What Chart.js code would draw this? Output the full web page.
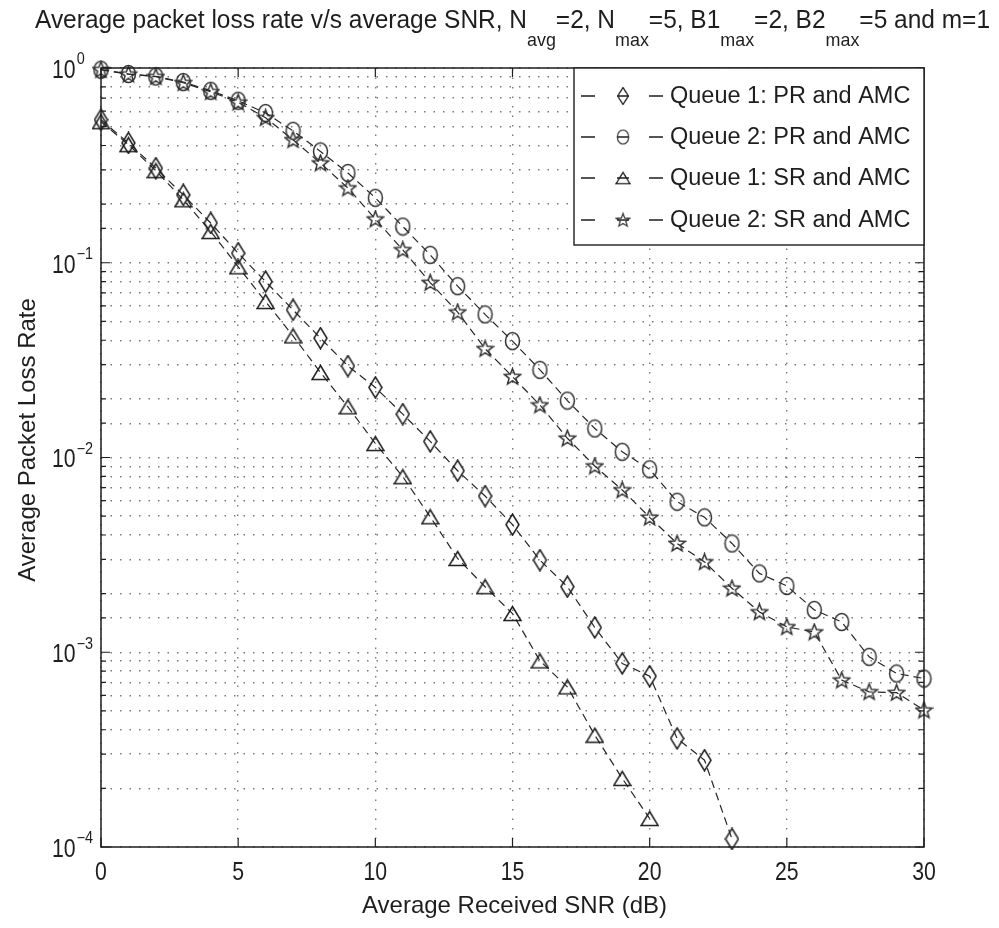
<!DOCTYPE html>
<html>
<head>
<meta charset="utf-8">
<script src="https://cdn.jsdelivr.net/npm/chart.js@4.4.0/dist/chart.umd.min.js"></script>
<style>
  html, body { margin: 0; padding: 0; background: #fff; }
  #wrap { position: relative; width: 999px; height: 928px; overflow: hidden; }
  #title {
    position: absolute; left: 35px; top: 4px; white-space: nowrap; color: #1e1e1e;
    font: 26px "Liberation Sans", Arial, sans-serif; transform-origin: 0 0;
  }
  #title .s { font-size: 19px; position: relative; top: 18px; }
  #chart { position: absolute; left: 0; top: 0; }
</style>
</head>
<body>
<div id="wrap">
  <canvas id="chart" width="999" height="928"></canvas>
  <div id="title">Average packet loss rate v/s average SNR, N<span class="s">avg</span>=2, N<span class="s">max</span>=5, B1<span class="s">max</span>=2, B2<span class="s">max</span>=5 and m=1</div>
</div>
<script>
// --- data ---
const snrDb = [0, 1, 2, 3, 4, 5, 6, 7, 8, 9, 10, 11, 12, 13, 14, 15, 16, 17, 18, 19, 20,
               21, 22, 23, 24, 25, 26, 27, 28, 29, 30];
const q1PR = [0.542, 0.412, 0.306, 0.223, 0.160, 0.112, 0.080, 0.0573, 0.0410, 0.0295, 0.0229,
              0.0167, 0.0121, 0.00855, 0.00634, 0.00452, 0.00297, 0.00217, 0.00134, 0.000876,
              0.000754, 0.000361, 0.000279, 0.000110];
const q2PR = [0.980, 0.932, 0.905, 0.847, 0.764, 0.679, 0.587, 0.476, 0.373, 0.289, 0.2156,
              0.1535, 0.1098, 0.0758, 0.0543, 0.0396, 0.0282, 0.0196, 0.0141, 0.0107, 0.0087,
              0.00593, 0.00493, 0.00362, 0.00254, 0.00219, 0.00165, 0.00143, 0.000947, 0.000778,
              0.000733];
const q1SR = [0.530, 0.404, 0.297, 0.2105, 0.1446, 0.0953, 0.0632, 0.0421, 0.0273, 0.0182, 0.0118,
              0.00797, 0.00496, 0.00303, 0.00217, 0.00158, 0.000903, 0.000664, 0.000375, 0.000225,
              0.000140];
const q2SR = [0.980, 0.929, 0.902, 0.840, 0.755, 0.667, 0.555, 0.428, 0.325, 0.242, 0.1675,
              0.1165, 0.0791, 0.0558, 0.0362, 0.0260, 0.0186, 0.01255, 0.00904, 0.00681, 0.00493,
              0.00362, 0.00291, 0.00213, 0.00161, 0.00135, 0.00127, 0.000719, 0.000626, 0.000620,
              0.000504];
const seriesNames = ['Queue 1: PR and AMC', 'Queue 2: PR and AMC', 'Queue 1: SR and AMC', 'Queue 2: SR and AMC'];
const xTicks = [0, 5, 10, 15, 20, 25, 30];
const yExponents = [0, -1, -2, -3, -4];
const xTitle = 'Average Received SNR (dB)';
const yTitle = 'Average Packet Loss Rate';

const FONT = '"Liberation Sans", Arial, sans-serif';
const INK = '#1e1e1e';

// squeeze the title to the width it has in the figure
const titleEl = document.getElementById('title');
titleEl.style.transform = 'scaleX(' + (955 / titleEl.getBoundingClientRect().width) + ')';

// --- marker images (hollow, like the MATLAB markers) ---
function makeMarker(w, h, color, path) {
    const c = document.createElement('canvas');
    c.width = w; c.height = h;
    const g = c.getContext('2d');
    g.strokeStyle = color;
    g.lineWidth = 1.5;
    g.beginPath();
    path(g);
    g.closePath();
    g.stroke();
    return c;
}
const diamond = makeMarker(15, 23, INK, g => {
    g.moveTo(7.5, 1); g.lineTo(14, 11.5); g.lineTo(7.5, 22); g.lineTo(1, 11.5);
});
const circle = makeMarker(17, 20, '#333', g => {
    g.ellipse(8.5, 10, 7, 8.5, 0, 0, Math.PI * 2);
});
const triangle = makeMarker(19, 17, INK, g => {
    g.moveTo(9.5, 1.5); g.lineTo(18, 15.5); g.lineTo(1, 15.5);
});
const star = makeMarker(19, 19, '#333', g => {
    for (let i = 0; i < 10; i++) {
        const r = i % 2 === 0 ? 8.5 : 3.6;
        const a = -Math.PI / 2 + i * Math.PI / 5;
        const px = 9.5 + r * Math.cos(a), py = 10 + r * Math.sin(a);
        if (i === 0) g.moveTo(px, py); else g.lineTo(px, py);
    }
});
const markers = [diamond, circle, triangle, star];

function toPoints(vals) {
    return vals.map((v, i) => ({ x: snrDb[i], y: v }));
}

// text with an optional horizontal squeeze (the figure uses a narrow face)
function drawText(ctx, text, x, y, font, align, sx) {
    ctx.save();
    ctx.font = font;
    ctx.textAlign = align;
    ctx.textBaseline = 'middle';
    ctx.translate(x, y);
    ctx.scale(sx, 1);
    ctx.fillText(text, 0, 0);
    ctx.restore();
}

// --- axes, ticks, labels and legend drawn on top ---
const decorPlugin = {
    id: 'decor',
    afterDraw(chart) {
        const { ctx, chartArea: a, scales: { x, y } } = chart;
        ctx.save();
        ctx.strokeStyle = INK;
        ctx.fillStyle = INK;

        // plot box
        ctx.lineWidth = 1.5;
        ctx.strokeRect(a.left, a.top, a.right - a.left, a.bottom - a.top);

        // inward ticks
        ctx.lineWidth = 1.2;
        ctx.beginPath();
        y.ticks.forEach(t => {
            const e = Math.log10(t.value);
            const major = Math.abs(e - Math.round(e)) < 1e-6;
            const len = major ? 9 : 5;
            const py = y.getPixelForValue(t.value);
            ctx.moveTo(a.left, py); ctx.lineTo(a.left + len, py);
            ctx.moveTo(a.right, py); ctx.lineTo(a.right - len, py);
        });
        xTicks.forEach(v => {
            const px = x.getPixelForValue(v);
            ctx.moveTo(px, a.bottom); ctx.lineTo(px, a.bottom - 9);
            ctx.moveTo(px, a.top); ctx.lineTo(px, a.top + 9);
        });
        ctx.stroke();

        // x tick labels
        xTicks.forEach(v => drawText(ctx, String(v), x.getPixelForValue(v), a.bottom + 26, '25px ' + FONT, 'center', 0.85));

        // y tick labels: 10 with superscript exponent
        yExponents.forEach(e => {
            const py = y.getPixelForValue(Math.pow(10, e));
            drawText(ctx, '10', 52, py + 3, '25px ' + FONT, 'left', 0.85);
            ctx.font = '25px ' + FONT;
            const w = ctx.measureText('10').width * 0.85;
            drawText(ctx, e === 0 ? '0' : '\u2212' + Math.abs(e), 52 + w + 1, py - 8, '16px ' + FONT, 'left', 0.9);
        });

        // axis titles
        drawText(ctx, xTitle, (a.left + a.right) / 2 + 2, 906, '24px ' + FONT, 'center', 1);
        ctx.save();
        ctx.translate(28, 440);
        ctx.rotate(-Math.PI / 2);
        drawText(ctx, yTitle, 0, 0, '24px ' + FONT, 'center', 1);
        ctx.restore();

        // legend box
        const box = { l: 574, t: a.top, r: a.right, b: 245 };
        ctx.fillStyle = '#fff';
        ctx.fillRect(box.l, box.t, box.r - box.l, box.b - box.t);
        ctx.lineWidth = 1.4;
        ctx.strokeRect(box.l, box.t, box.r - box.l, box.b - box.t);
        const rows = [96, 137, 178, 220];
        ctx.fillStyle = INK;
        rows.forEach((ry, i) => {
            ctx.lineWidth = 1.3;
            ctx.beginPath();
            ctx.moveTo(581, ry); ctx.lineTo(595, ry);
            ctx.moveTo(617, ry); ctx.lineTo(629, ry);
            ctx.moveTo(649, ry); ctx.lineTo(663, ry);
            ctx.stroke();
            const m = markers[i];
            ctx.save();
            ctx.translate(623, ry);
            ctx.scale(0.82, 0.82);
            ctx.drawImage(m, -m.width / 2, -m.height / 2);
            ctx.restore();
            drawText(ctx, seriesNames[i], 670, ry + 1, '23.5px ' + FONT, 'left', 1);
        });
        ctx.restore();
    }
};

const lineStyle = {
    borderColor: '#262626',
    borderWidth: 1.2,
    borderDash: [8, 5],
    pointRadius: 9,
    pointHoverRadius: 9,
    fill: false,
    tension: 0,
    clip: false
};

new Chart(document.getElementById('chart'), {
    type: 'line',
    data: {
        datasets: [
            { ...lineStyle, label: seriesNames[0], data: toPoints(q1PR), pointStyle: diamond },
            { ...lineStyle, label: seriesNames[1], data: toPoints(q2PR), pointStyle: circle },
            { ...lineStyle, label: seriesNames[2], data: toPoints(q1SR), pointStyle: triangle },
            { ...lineStyle, label: seriesNames[3], data: toPoints(q2SR), pointStyle: star }
        ]
    },
    options: {
        responsive: false,
        animation: false,
        events: [],
        layout: { padding: { top: 68, right: 75, left: 0, bottom: 0 } },
        plugins: {
            legend: { display: false },
            title: { display: false },
            tooltip: { enabled: false }
        },
        scales: {
            x: {
                type: 'linear',
                min: 0,
                max: 30,
                ticks: { stepSize: 5, display: false },
                grid: { color: '#7a7a7a', lineWidth: 1.4, drawTicks: false },
                border: { display: false, dash: [1.5, 8] },
                afterFit: s => { s.height = 81; }
            },
            y: {
                type: 'logarithmic',
                min: 1e-4,
                max: 1,
                ticks: { display: false },
                grid: { color: '#7a7a7a', lineWidth: 1.4, drawTicks: false },
                border: { display: false, dash: [1.5, 8] },
                afterFit: s => { s.width = 101; }
            }
        }
    },
    plugins: [decorPlugin]
});
</script>
</body>
</html>
